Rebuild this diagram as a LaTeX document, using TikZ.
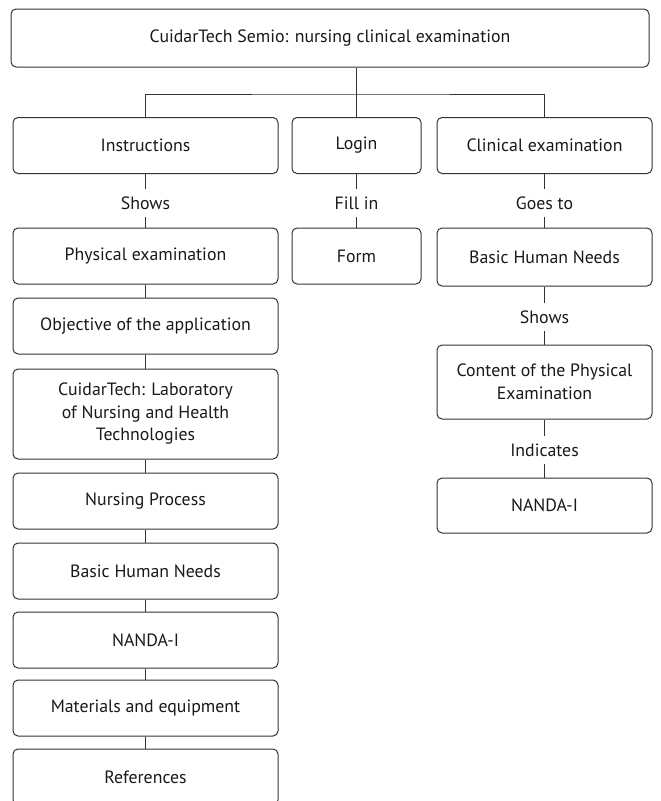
\documentclass[tikz,border=0pt]{standalone}
\usepackage{fontspec}
\setmainfont{PT Sans}
\begin{document}
\begin{tikzpicture}[x=1pt,y=-1pt,
    box/.style={draw=black!80,line width=1pt,rounded corners=5pt,align=center,
      font=\fontsize{17.8}{22.5}\selectfont,text=black!90,inner sep=0pt,minimum height=56},
    tag/.style={font=\fontsize{17.8}{22.5}\selectfont,text=black!90,inner sep=0pt,minimum height=28},
    link/.style={draw=black!80,line width=1pt}]
    \clip (0,0) rectangle (661,801);
    \node[box,minimum width=638,minimum height=58] (title) at (330,38) {CuidarTech Semio: nursing clinical examination};
    \node[box,minimum width=265] (instr) at (145.5,145.5) {Instructions};
    \node[box,minimum width=129] (login) at (356.5,145.5) {Login};
    \node[box,minimum width=215] (clin) at (544.5,145.5) {Clinical examination};
    \coordinate (split) at (356.5,94);
    \draw[link] (title.south -| login.north) -- (login.north);
    \draw[link] (instr.north) |- (split) -| (clin.north);
    % left column
    \node[tag] (shows) at (145.5,203) {Shows};
    \node[box,minimum width=265] (phys) at (145.5,256) {Physical examination};
    \node[box,minimum width=265] (obj) at (145.5,326) {Objective of the application};
    \node[box,minimum width=265,minimum height=90] (lab) at (145.5,414) {CuidarTech: Laboratory\\of Nursing and Health\\Technologies};
    \node[box,minimum width=265] (proc) at (145.5,501) {Nursing Process};
    \node[box,minimum width=265] (needs) at (145.5,571) {Basic Human Needs};
    \node[box,minimum width=265] (nanda) at (145.5,640) {NANDA-I};
    \node[box,minimum width=265] (equip) at (145.5,708) {Materials and equipment};
    \node[box,minimum width=265] (refs) at (145.5,777) {References};
    \draw[link] (instr) -- (shows) -- (phys);
    \foreach \a/\b in {phys/obj,obj/lab,lab/proc,proc/needs,needs/nanda,nanda/equip,equip/refs}
        \draw[link] (\a) -- (\b);
    % middle column
    \node[tag] (fill) at (356.5,203) {Fill in};
    \node[box,minimum width=129] (form) at (356.5,256) {Form};
    \draw[link] (login) -- (fill) -- (form);
    % right column
    \node[tag] (goes) at (544.5,203) {Goes to};
    \node[box,minimum width=215,minimum height=58] (needsR) at (544.5,257) {Basic Human Needs};
    \node[tag] (showsR) at (544.5,317) {Shows};
    \node[box,minimum width=215,minimum height=74] (content) at (544.5,382) {Content of the Physical\\Examination};
    \node[tag] (ind) at (544.5,450) {Indicates};
    \node[box,minimum width=215,minimum height=55] (nandaR) at (544.5,505.5) {NANDA-I};
    \draw[link] (clin) -- (goes) -- (needsR) -- (showsR) -- (content) -- (ind) -- (nandaR);
\end{tikzpicture}
\end{document}
